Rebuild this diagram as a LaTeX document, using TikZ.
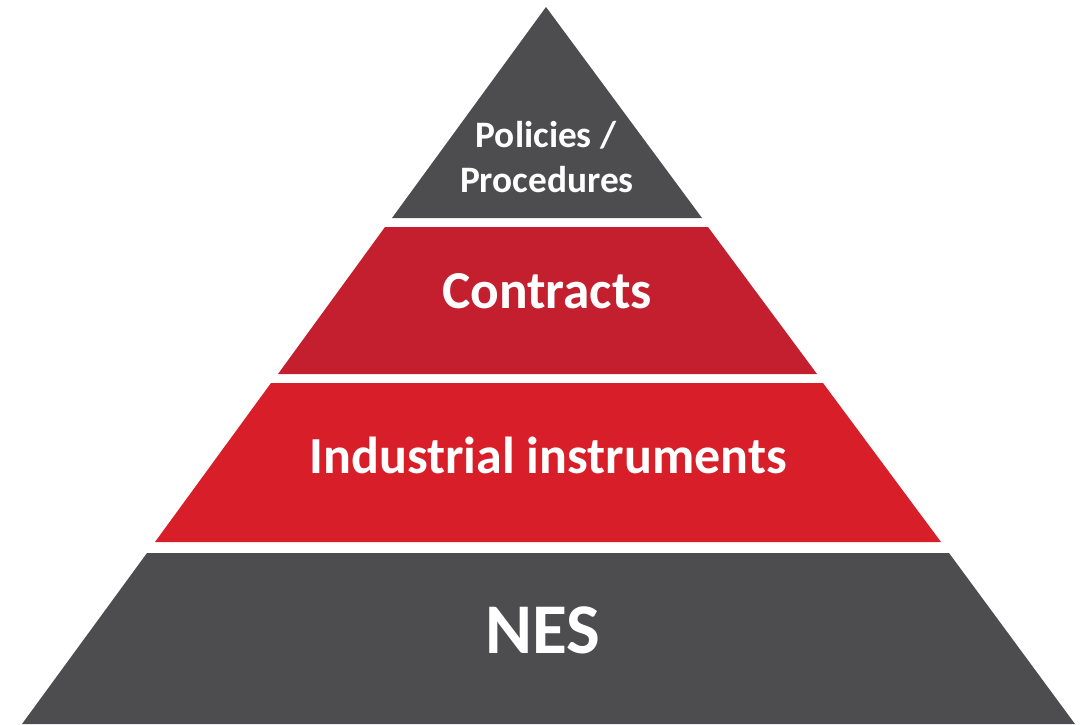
\documentclass[tikz,border=0pt]{standalone}
\usepackage{fontspec}
\setmainfont{Carlito}
\usepackage{tikz}

\definecolor{tiergray}{HTML}{4D4D4F}
\definecolor{tierred}{HTML}{C41F2F}
\definecolor{tierbright}{HTML}{D81E28}

\begin{document}
\begin{tikzpicture}[
    x=0.75pt, y=-0.75pt,
    tier/.style={draw=none},
    label/.style={text=white, font=\bfseries, align=center, inner sep=0pt, anchor=base}
]
\useasboundingbox (0,0) rectangle (1084,724);

% layers, bottom to top
\fill[tier, tiergray]   (147,553) -- (949,553) -- (1075,724) -- (22,724) -- cycle;
\fill[tier, tierbright] (271,383) -- (823,383) -- (941,542) -- (155,542) -- cycle;
\fill[tier, tierred]    (385,227) -- (708,227) -- (817,374) -- (278,374) -- cycle;
\fill[tier, tiergray]   (546,7) -- (702,218) -- (392,218) -- cycle;

\node[label, font=\bfseries\fontsize{28}{34}\selectfont] (policies) at (546,147) {Policies /};
\node[label, font=\bfseries\fontsize{28}{34}\selectfont] (procedures) at (547,192) {Procedures};
\node[label, font=\bfseries\fontsize{40}{46}\selectfont] (contracts) at (547,308) {Contracts};
\node[label, font=\bfseries\fontsize{39}{46}\selectfont] (industrial) at (548,473) {Industrial instruments};
\node[label, font=\bfseries\fontsize{53.5}{60}\selectfont] (nes) at (543,653) {NES};
\end{tikzpicture}
\end{document}
